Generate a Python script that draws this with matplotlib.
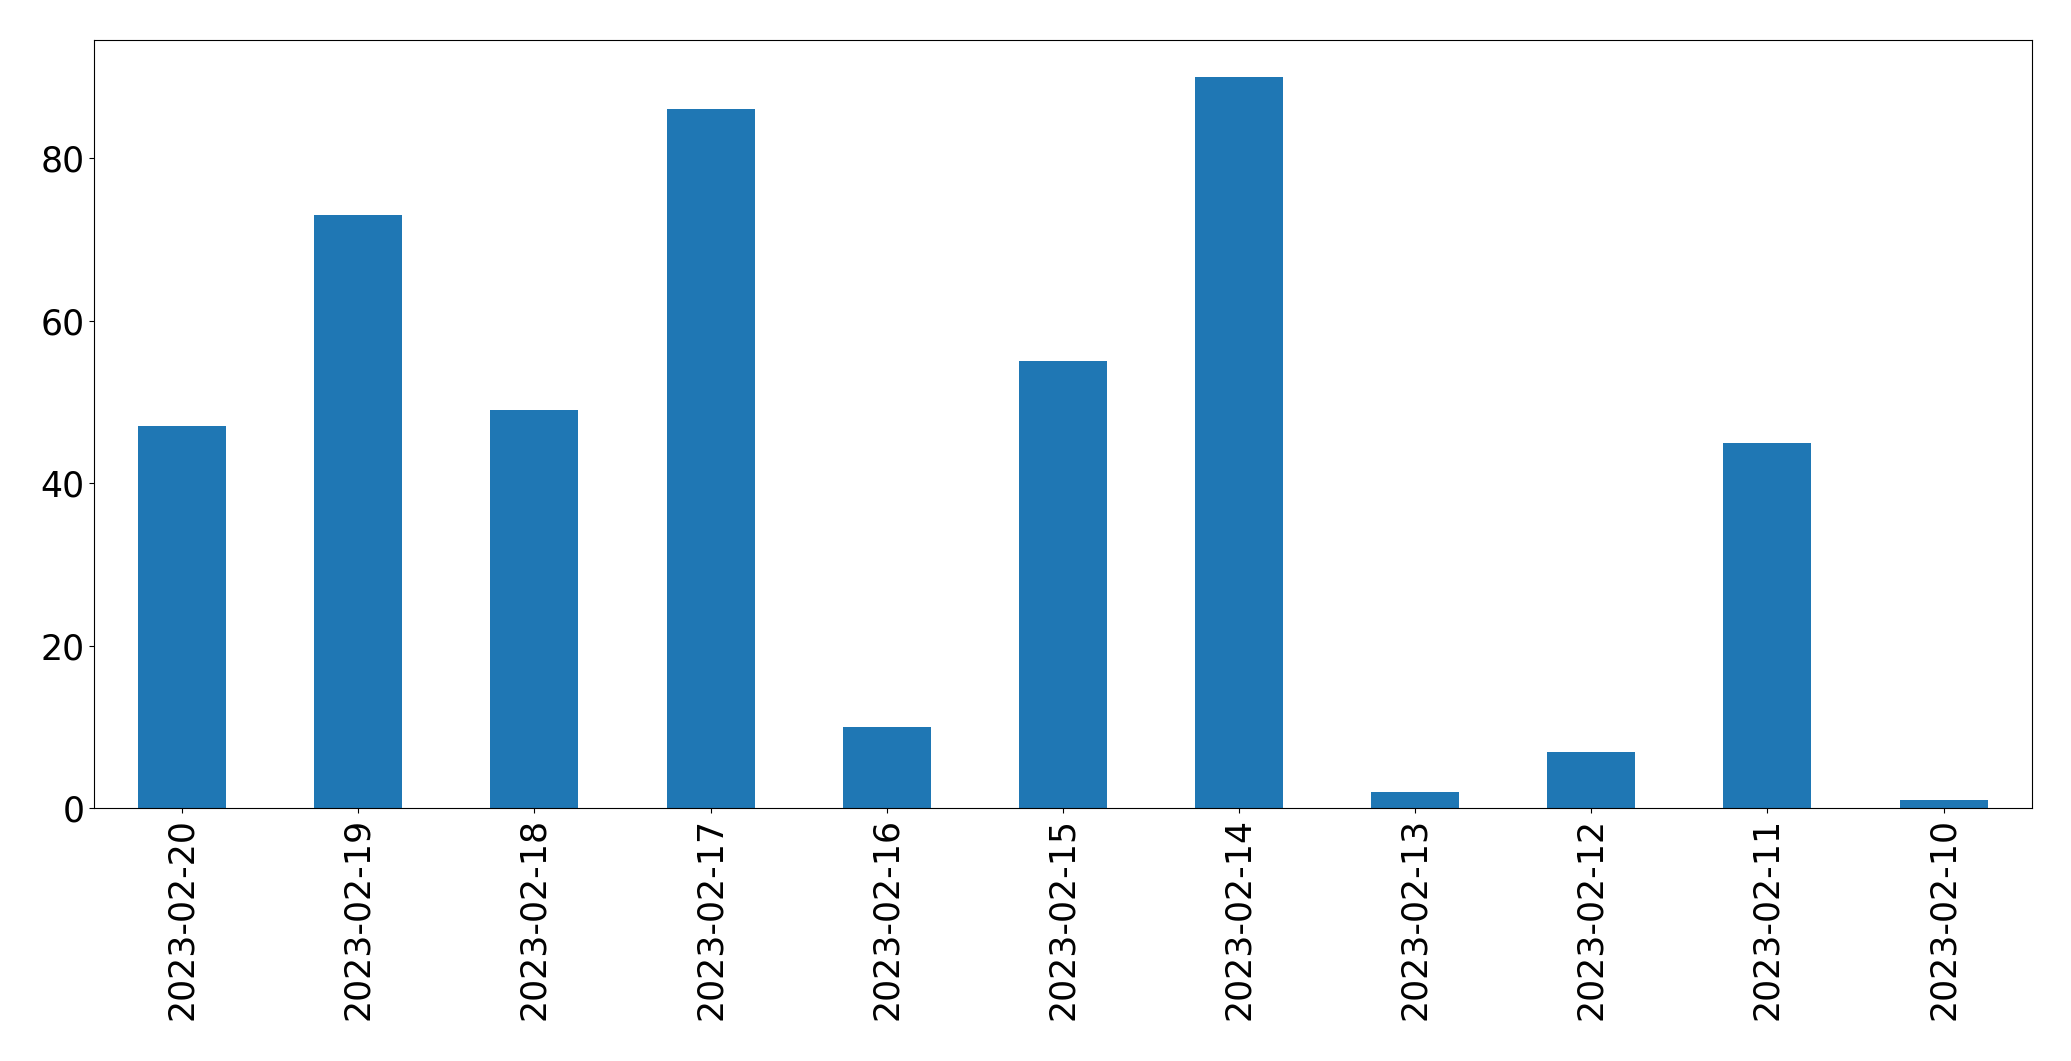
"""Bar chart of daily counts."""

import matplotlib
matplotlib.use("Agg")
import matplotlib.pyplot as plt
import pandas as pd

dates = ["2023-02-20", "2023-02-19", "2023-02-18", "2023-02-17", "2023-02-16",
         "2023-02-15", "2023-02-14", "2023-02-13", "2023-02-12", "2023-02-11",
         "2023-02-10"]
counts = [47, 73, 49, 86, 10, 55, 90, 2, 7, 45, 1]

s = pd.Series(counts, index=dates)

fig, ax = plt.subplots(figsize=(20.71, 10.61), dpi=100)
s.plot(kind="bar", ax=ax, color="#1f77b4", fontsize=25)
fig.subplots_adjust(left=0.0454, right=0.981, top=0.962, bottom=0.238)
fig.savefig("out.png", dpi=100)
